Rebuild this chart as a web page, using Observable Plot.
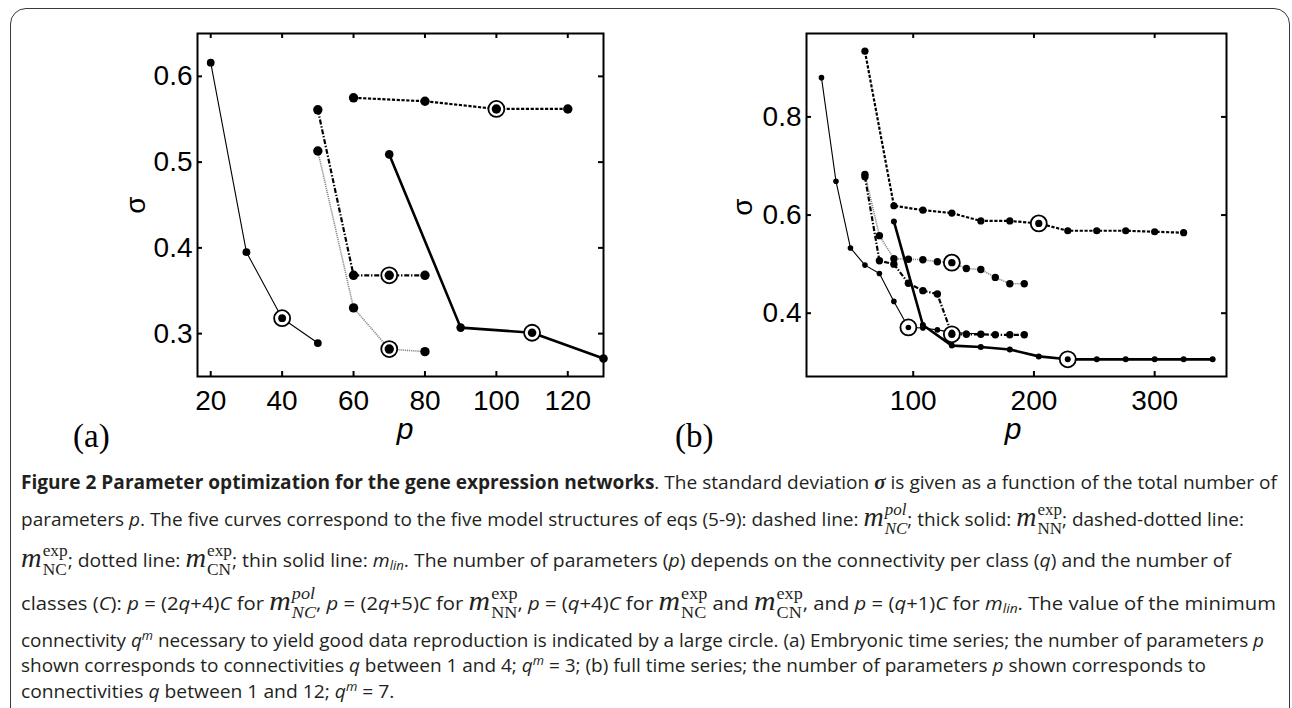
<!DOCTYPE html>
<html><head><meta charset="utf-8">
<script src="https://cdn.jsdelivr.net/npm/d3@7"></script>
<script src="https://cdn.jsdelivr.net/npm/@observablehq/plot@0.6"></script>
<style>
html,body{margin:0;padding:0;background:#fff;}
body{width:1292px;height:708px;overflow:hidden;position:relative;color:#231f20;}
#border{position:absolute;left:10px;top:8px;width:1280px;height:760px;border:1.5px solid #3a3a3a;border-radius:16px;box-sizing:border-box;}
.panel{position:absolute;left:0;top:0;}
.lab{position:absolute;white-space:nowrap;line-height:1;color:#000;}
.sigma{font-family:"Liberation Sans",Arial,sans-serif;font-size:28px;transform:translate(-50%,-50%) rotate(-90deg);}
.pl{font-family:"Liberation Sans",Arial,sans-serif;font-style:italic;font-size:30px;transform:translateX(-50%);}
.pan{font-family:"Liberation Serif","Times New Roman",serif;font-size:33px;}
.line{position:absolute;left:21px;top:0;white-space:nowrap;font-family:"Open Sans",sans-serif;font-size:19px;line-height:44px;transform-origin:0 0;color:#231f20;}
.line b{font-weight:700;}
.bl{display:inline-block;width:0;height:0;vertical-align:baseline;}
.sg{font-family:"Liberation Serif",serif;font-style:italic;font-weight:700;font-size:21px;}
.mm{font-family:"Liberation Serif",serif;font-style:italic;font-size:28px;line-height:1;}
.ss{display:inline-block;font-family:"Liberation Serif",serif;font-size:17px;line-height:19px;vertical-align:-8px;margin-left:1px;}
.ss span{display:block;}
.ss.it{font-style:italic;}
.line sub{font-size:0.68em;vertical-align:-0.25em;line-height:0;}
.line sup{font-size:0.68em;vertical-align:0.55em;line-height:0;}
</style>
</head>
<body>
<div id="border"></div>
<script>
// ---------- data : panel (a) embryonic time series ----------
const qA = [1, 2, 3, 4];
const qmA = 3;
const pA_pol = [60, 80, 100, 120];
const sA_pol = [0.575, 0.571, 0.562, 0.562];
const pA_NN = [70, 90, 110, 130];
const sA_NN = [0.509, 0.307, 0.301, 0.271];
const pA_NC = [50, 60, 70, 80];
const sA_NC = [0.561, 0.368, 0.368, 0.368];
const pA_CN = [50, 60, 70, 80];
const sA_CN = [0.513, 0.330, 0.282, 0.279];
const pA_lin = [20, 30, 40, 50];
const sA_lin = [0.616, 0.395, 0.318, 0.289];
const xTicksA = [20, 40, 60, 80, 100, 120];
const yTicksA = [0.3, 0.4, 0.5, 0.6];

// ---------- data : panel (b) full time series ----------
const qB = [1, 2, 3, 4, 5, 6, 7, 8, 9, 10, 11, 12];
const qmB = 7;
const pB_pol = [60, 84, 108, 132, 156, 180, 204, 228, 252, 276, 300, 324];
const sB_pol = [0.934, 0.619, 0.610, 0.604, 0.588, 0.588, 0.583, 0.568, 0.568, 0.568, 0.566, 0.564];
const pB_NN = [84, 108, 132, 156, 180, 204, 228, 252, 276, 300, 324, 348];
const sB_NN = [0.587, 0.376, 0.334, 0.331, 0.326, 0.312, 0.306, 0.306, 0.306, 0.306, 0.306, 0.306];
const pB_NC = [60, 72, 84, 96, 108, 120, 132, 144, 156, 168, 180, 192];
const sB_NC = [0.678, 0.507, 0.500, 0.461, 0.446, 0.439, 0.357, 0.357, 0.357, 0.356, 0.356, 0.356];
const pB_CN = [60, 72, 84, 96, 108, 120, 132, 144, 156, 168, 180, 192];
const sB_CN = [0.683, 0.558, 0.511, 0.510, 0.509, 0.505, 0.503, 0.491, 0.489, 0.473, 0.460, 0.460];
const pB_lin = [24, 36, 48, 60, 72, 84, 96, 108, 120, 132, 144, 156];
const sB_lin = [0.880, 0.669, 0.533, 0.498, 0.481, 0.424, 0.371, 0.370, 0.366, 0.361, 0.359, 0.358];
const xTicksB = [100, 200, 300];
const yTicksB = [0.4, 0.6, 0.8];

// ---------- styles (one per model structure) ----------
const styleA = {
  CN:  {stroke: "#8a8a8a", strokeWidth: 1.6, strokeDasharray: "1.2,0.9", r: 4.7},
  lin: {stroke: "black", strokeWidth: 1.1, strokeDasharray: null, r: 3.9},
  NC:  {stroke: "black", strokeWidth: 2.2, strokeDasharray: "5,1.8,1.4,1.8", r: 4.7},
  pol: {stroke: "black", strokeWidth: 2.2, strokeDasharray: "3.2,1.6", r: 4.7},
  NN:  {stroke: "black", strokeWidth: 2.6, strokeDasharray: null, r: 4.3}
};
const styleB = {
  CN:  {stroke: "#8a8a8a", strokeWidth: 1.6, strokeDasharray: "1.2,0.9", r: 3.7},
  lin: {stroke: "black", strokeWidth: 1.1, strokeDasharray: null, r: 2.8},
  NC:  {stroke: "black", strokeWidth: 2.2, strokeDasharray: "5,1.8,1.4,1.8", r: 3.7},
  pol: {stroke: "black", strokeWidth: 2.2, strokeDasharray: "3.2,1.6", r: 3.6},
  NN:  {stroke: "black", strokeWidth: 2.6, strokeDasharray: null, r: 3.0}
};

function rows(q, p, s, key) { return q.map((qq, i) => ({q: qq, p: p[i], s: s[i], key})); }

function makePanel(cfg) {
  const {series, qm, style, xDomain, yDomain, xTicks, yTicks, left, right, top, bottom} = cfg;
  const W = 1292, H = 420;
  const innerW = right - left, innerH = bottom - top;
  const marks = [];
  const order = ["CN", "lin", "NC", "pol", "NN"];
  for (const k of order) {
    const st = style[k];
    marks.push(Plot.line(series[k], {x: "p", y: "s", stroke: st.stroke, strokeWidth: st.strokeWidth,
      strokeDasharray: st.strokeDasharray || undefined, strokeLinecap: "butt", strokeLinejoin: "round"}));
  }
  for (const k of order) {
    marks.push(Plot.dot(series[k].filter(d => d.q === qm), {x: "p", y: "s", r: 8, fill: "white", stroke: "black", strokeWidth: 1.8}));
  }
  for (const k of order) {
    marks.push(Plot.dot(series[k], {x: "p", y: "s", r: style[k].r, fill: "black", stroke: "none"}));
  }
  marks.push(Plot.frame({stroke: "black", strokeWidth: 2}));
  marks.push(Plot.tickX(xTicks, {x: d => d, insetTop: innerH - 5, strokeWidth: 2}));
  marks.push(Plot.tickX(xTicks, {x: d => d, insetBottom: innerH - 5, strokeWidth: 2}));
  marks.push(Plot.tickY(yTicks, {y: d => d, insetRight: innerW - 5, strokeWidth: 2}));
  marks.push(Plot.tickY(yTicks, {y: d => d, insetLeft: innerW - 5, strokeWidth: 2}));
  const svg = Plot.plot({
    width: W, height: H,
    marginLeft: left, marginRight: W - right, marginTop: top, marginBottom: H - bottom,
    x: {domain: xDomain, ticks: xTicks, tickSize: 0, tickPadding: 14, label: null},
    y: {domain: yDomain, ticks: yTicks, tickSize: 0, tickPadding: 5, label: null, tickFormat: d3.format(".1f")},
    style: {fontFamily: '"Liberation Sans", Arial, sans-serif', fontSize: "28px", color: "black", background: "none", overflow: "visible"},
    marks
  });
  svg.classList.add("panel");
  document.body.appendChild(svg);
}

makePanel({
  series: {pol: rows(qA, pA_pol, sA_pol, "pol"), NN: rows(qA, pA_NN, sA_NN, "NN"), NC: rows(qA, pA_NC, sA_NC, "NC"),
           CN: rows(qA, pA_CN, sA_CN, "CN"), lin: rows(qA, pA_lin, sA_lin, "lin")},
  qm: qmA, style: styleA,
  xDomain: [16.3, 130], yDomain: [0.25, 0.65], xTicks: xTicksA, yTicks: yTicksA,
  left: 197, right: 603, top: 33, bottom: 376
});
makePanel({
  series: {pol: rows(qB, pB_pol, sB_pol, "pol"), NN: rows(qB, pB_NN, sB_NN, "NN"), NC: rows(qB, pB_NC, sB_NC, "NC"),
           CN: rows(qB, pB_CN, sB_CN, "CN"), lin: rows(qB, pB_lin, sB_lin, "lin")},
  qm: qmB, style: styleB,
  xDomain: [11.6, 359.5], yDomain: [0.271, 0.970], xTicks: xTicksB, yTicks: yTicksB,
  left: 806, right: 1226, top: 33, bottom: 376
});

// ---------- axis labels & panel labels ----------
function label(cls, text, x, y) {
  const d = document.createElement("div");
  d.className = "lab " + cls;
  d.textContent = text;
  d.style.left = x + "px"; d.style.top = y + "px";
  document.body.appendChild(d);
}
label("sigma", "σ", 136, 205);
label("sigma", "σ", 743, 207);
label("pl", "p", 405, 414);
label("pl", "p", 1013, 414);
label("pan", "(a)", 73, 420);
label("pan", "(b)", 675, 420);

// ---------- caption ----------
function M(sup, sub, italic) {
  return `<span class="mm">m</span><span class="ss${italic ? " it" : ""}"><span>${sup}</span><span>${sub}</span></span>`;
}
const mlin = `<i>m</i><sub><i>lin</i></sub>`;
const qm = `<i>q</i><sup><i>m</i></sup>`;
const captionLines = [
  `<b>Figure 2 Parameter optimization for the gene expression networks</b>. The standard deviation <span class="sg">σ</span> is given as a function of the total number of`,
  `parameters <i>p</i>. The five curves correspond to the five model structures of eqs (5-9): dashed line: ${M("pol", "NC", true)}; thick solid: ${M("exp", "NN", false)}; dashed-dotted line:`,
  `${M("exp", "NC", false)}; dotted line: ${M("exp", "CN", false)}; thin solid line: ${mlin}. The number of parameters (<i>p</i>) depends on the connectivity per class (<i>q</i>) and the number of`,
  `classes (<i>C</i>): <i>p</i> = (2<i>q</i>+4)<i>C</i> for ${M("pol", "NC", true)}, <i>p</i> = (2<i>q</i>+5)<i>C</i> for ${M("exp", "NN", false)}, <i>p</i> = (<i>q</i>+4)<i>C</i> for ${M("exp", "NC", false)} and ${M("exp", "CN", false)}, and <i>p</i> = (<i>q</i>+1)<i>C</i> for ${mlin}. The value of the minimum`,
  `connectivity ${qm} necessary to yield good data reproduction is indicated by a large circle. (a) Embryonic time series; the number of parameters <i>p</i>`,
  `shown corresponds to connectivities <i>q</i> between 1 and 4; ${qm} = 3; (b) full time series; the number of parameters <i>p</i> shown corresponds to`,
  `connectivities <i>q</i> between 1 and 12; ${qm} = 7.`
];
const captionBaselines = [489, 526, 567, 610, 647, 672, 698];
const captionRight = [1277, 1244, 1231, 1276, 1264, 1206, null];
const lineDivs = captionLines.map(html => {
  const d = document.createElement("div");
  d.className = "line";
  d.innerHTML = `<span class="bl"></span>` + html;
  document.body.appendChild(d);
  return d;
});
function layoutCaption() {
  const ks = [];
  lineDivs.forEach((d, i) => {
    d.style.transform = "none";
    d.style.top = "0px";
    const r = d.getBoundingClientRect();
    const base = d.querySelector(".bl").getBoundingClientRect().bottom - r.top;
    d.style.top = (captionBaselines[i] - base) + "px";
    let k;
    if (captionRight[i] != null) { k = (captionRight[i] - 21) / r.width; ks.push(k); }
    else k = d3.mean(ks);
    d.style.transform = `scaleX(${k})`;
  });
}
layoutCaption();
if (document.fonts && document.fonts.ready) document.fonts.ready.then(layoutCaption);
</script>
</body></html>
